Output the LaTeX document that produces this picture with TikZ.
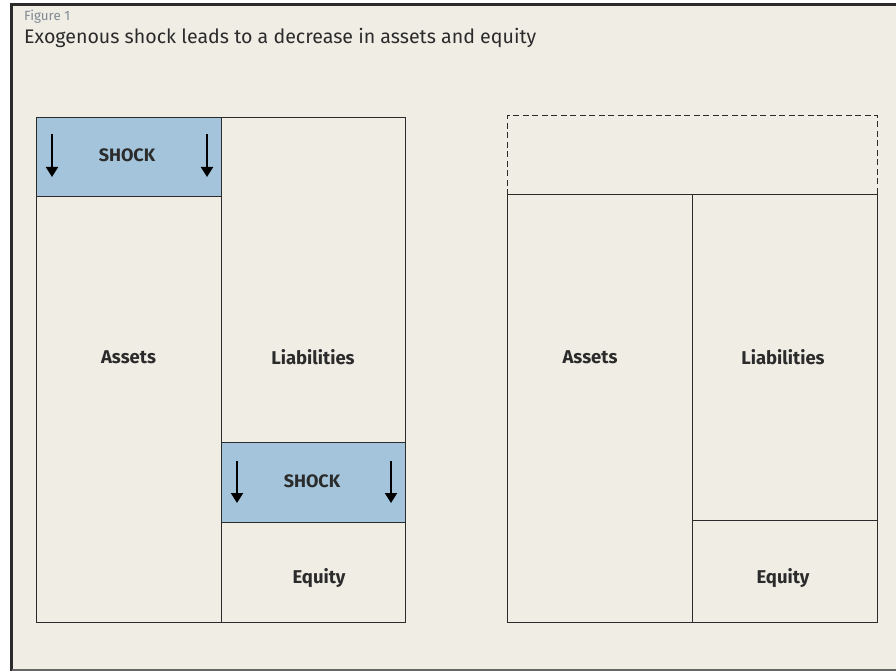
\documentclass[tikz,border=0pt]{standalone}
\usepackage{fontspec}
\setmainfont{Fira Sans}
\usetikzlibrary{arrows.meta}
\definecolor{bg}{HTML}{F0EDE5}
\definecolor{shockblue}{HTML}{A3C4DB}
\definecolor{ink}{HTML}{2B2B2B}
\definecolor{figgray}{HTML}{7F8A93}
\definecolor{framegray}{HTML}{666666}
\tikzset{
  cell/.style={draw=ink, line width=1pt, inner sep=0pt, anchor=north west},
  shockcell/.style={cell, fill=shockblue},
  dashcell/.style={cell, dashed, dash pattern=on 6pt off 3.5pt},
  lbl/.style={font=\fontsize{18.5}{22}\selectfont\bfseries, text=ink, inner sep=0pt},
  shocklbl/.style={font=\fontsize{18}{22}\selectfont\bfseries, text=ink, inner sep=0pt},
  downarrow/.style={line width=2pt, -{Triangle[width=12pt,length=10pt]}, black},
}
\begin{document}
\begin{tikzpicture}[x=1pt,y=-1pt]
\useasboundingbox (0,0) rectangle (896,671);
\fill[white] (0,0) rectangle (896,671);
\fill[bg] (11.5,4.5) rectangle (896,670);
\draw[ink, line width=2.5pt] (11.5,671) -- (11.5,4.5) -- (896,4.5);
\draw[framegray, line width=2pt] (11.5,670) -- (896,670);

\node[anchor=west, inner sep=0pt, text=figgray, font=\fontsize{13.4}{16}\selectfont] (fig) at (24,17) {Figure 1};
\node[anchor=west, inner sep=0pt, text=ink, font=\fontsize{19.6}{23}\selectfont] (title) at (24,38) {Exogenous shock leads to a decrease in assets and equity};

% left balance sheet
\node[cell, minimum width=185pt, minimum height=505pt] (assetsL) at (36,117) {};
\node[cell, minimum width=184pt, minimum height=325pt] (liabL) at (221,117) {};
\node[cell, minimum width=184pt, minimum height=180pt] (equityL) at (221,442) {};
\node[shockcell, minimum width=185pt, minimum height=79pt] (shockA) at (36,117) {};
\node[shockcell, minimum width=184pt, minimum height=80pt] (shockE) at (221,442) {};

\node[shocklbl] (shockAt) at (127,155) {SHOCK};
\node[shocklbl] (shockEt) at (312,481) {SHOCK};
\node[lbl] (assetsLt) at (128.5,357) {Assets};
\node[lbl] (liabLt) at (313,357) {Liabilities};
\node[lbl] (equityLt) at (319,578) {Equity};

\coordinate (a1s) at (52,134); \coordinate (a1e) at (52,177);
\coordinate (a2s) at (207,134); \coordinate (a2e) at (207,177);
\coordinate (e1s) at (237,461); \coordinate (e1e) at (237,503);
\coordinate (e2s) at (391,461); \coordinate (e2e) at (391,503);
\draw[downarrow] (a1s) -- (a1e);
\draw[downarrow] (a2s) -- (a2e);
\draw[downarrow] (e1s) -- (e1e);
\draw[downarrow] (e2s) -- (e2e);

% right balance sheet
\node[dashcell, minimum width=370pt, minimum height=79pt] (gone) at (507,115) {};
\node[cell, minimum width=185pt, minimum height=428pt] (assetsR) at (507,194) {};
\node[cell, minimum width=185pt, minimum height=326pt] (liabR) at (692,194) {};
\node[cell, minimum width=185pt, minimum height=102pt] (equityR) at (692,520) {};

\node[lbl] (assetsRt) at (590,357) {Assets};
\node[lbl] (liabRt) at (783,357) {Liabilities};
\node[lbl] (equityRt) at (783,578) {Equity};
\end{tikzpicture}
\end{document}
